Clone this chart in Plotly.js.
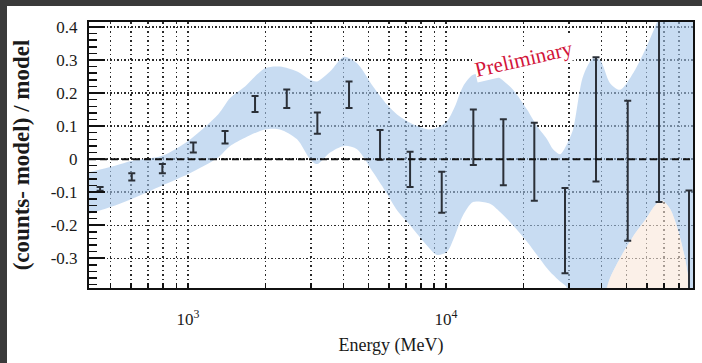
<!DOCTYPE html>
<html>
<head>
<meta charset="utf-8">
<script src="https://cdn.plot.ly/plotly-3.0.1.min.js"></script>
<style>
  html, body { margin: 0; padding: 0; width: 702px; height: 363px; overflow: hidden; background: #3a3a3a; }
  #chart { position: absolute; left: 7px; top: 6px; width: 695px; height: 357px; background: #ffffff; }
</style>
</head>
<body>
<div id="chart"></div>
<script>
// ---- data points (energy in MeV, (counts-model)/model, 1-sigma error) ----
const energy   = [456, 605, 795, 1048, 1391, 1818, 2413, 3171, 4207, 5549, 7254, 9623, 12760, 16680, 21990, 28920, 38140, 50620, 66930, 87470];
const ratio    = [-0.09, -0.054, -0.029, 0.035, 0.066, 0.167, 0.183, 0.109, 0.195, 0.043, -0.031, -0.1, 0.066, 0.021, -0.008, -0.216, 0.12, -0.035, 0.15, -0.35];
const ratioErr = [0.006, 0.011, 0.014, 0.015, 0.019, 0.024, 0.028, 0.032, 0.04, 0.045, 0.053, 0.062, 0.084, 0.1, 0.118, 0.129, 0.188, 0.212, 0.28, 0.255];

// ---- systematic band (blue) ----
const bandEnergy = [413, 521, 607, 793, 1000, 1307, 1455, 1663, 1988, 2273, 2646, 2972, 3162, 3551, 4025, 4519, 5213, 5906, 6458, 7254, 8517, 9229, 10090, 10837, 11640, 12729, 14812, 16195, 18186, 20606, 22528, 24635, 25986, 27671, 29184, 31070, 33963, 37136, 39540, 43230, 47260, 54035, 59070, 64580, 68750, 73830, 79290, 84410, 88230, 90650, 96500];
const bandUpper  = [-0.04, -0.02, -0.005, 0.01, 0.055, 0.135, 0.185, 0.22, 0.275, 0.28, 0.265, 0.24, 0.235, 0.265, 0.31, 0.29, 0.22, 0.165, 0.135, 0.11, 0.09, 0.095, 0.115, 0.16, 0.22, 0.255, 0.26, 0.245, 0.21, 0.15, 0.1, 0.06, 0.03, 0.015, 0.04, 0.09, 0.25, 0.305, 0.3, 0.23, 0.21, 0.27, 0.33, 0.4, 0.45, 0.5, 0.5, 0.5, 0.5, 0.5, 0.5];
const bandLower  = [-0.165, -0.14, -0.12, -0.08, -0.045, 0.005, 0.04, 0.065, 0.09, 0.09, 0.06, 0.0, -0.015, 0.02, 0.04, 0.03, -0.04, -0.105, -0.155, -0.2, -0.265, -0.29, -0.28, -0.23, -0.17, -0.13, -0.135, -0.16, -0.2, -0.25, -0.29, -0.33, -0.35, -0.37, -0.385, -0.45, -0.45, -0.45, -0.45, -0.36, -0.3, -0.225, -0.185, -0.14, -0.125, -0.15, -0.215, -0.3, -0.39, -0.45, -0.45];

// ---- second band (light peach) at high energy ----
const peachEnergy = [39540, 43230, 47260, 54035, 59070, 64580, 68750, 73830, 79290, 84410, 88230, 90650];
const peachTop    = [-0.45, -0.36, -0.3, -0.225, -0.185, -0.14, -0.125, -0.15, -0.215, -0.3, -0.39, -0.45];

// ---- axes ----
const xTickVals = [500, 600, 700, 800, 900, 1000, 2000, 3000, 4000, 5000, 6000, 7000, 8000, 9000, 10000, 20000, 30000, 40000, 50000, 60000, 70000, 80000, 90000];
const xTickText = ['', '', '', '', '', '10<sup>3</sup>', '', '', '', '', '', '', '', '', '10<sup>4</sup>', '', '', '', '', '', '', '', ''];
const yTickVals = [-0.3, -0.2, -0.1, 0, 0.1, 0.2, 0.3, 0.4];
const yTickText = ['-0.3', '-0.2', '-0.1', '0', '0.1', '0.2', '0.3', '0.4'];
const xRangeMeV = [413, 90650];
const yRange = [-0.39, 0.415];

const traces = [
  { x: bandEnergy, y: bandLower, type: 'scatter', mode: 'lines', line: { width: 0, shape: 'spline', smoothing: 0.8 }, hoverinfo: 'skip' },
  { x: bandEnergy, y: bandUpper, type: 'scatter', mode: 'lines', line: { width: 0, shape: 'spline', smoothing: 0.8 },
    fill: 'tonexty', fillcolor: 'rgba(163,197,233,0.6)', hoverinfo: 'skip' },
  { x: peachEnergy, y: peachTop, type: 'scatter', mode: 'lines', line: { width: 0, shape: 'spline', smoothing: 0.8 },
    fill: 'toself', fillcolor: 'rgba(248,230,216,0.6)', hoverinfo: 'skip' },
  { x: energy, y: ratio, type: 'scatter', mode: 'markers',
    marker: { size: 1, color: 'rgba(0,0,0,0)' },
    error_y: { type: 'data', array: ratioErr, visible: true, color: '#2b3038', thickness: 2, width: 3.5 } }
];

const font = "'Liberation Serif', 'Times New Roman', Times, serif";
const layout = {
  width: 695, height: 357,
  margin: { l: 82, r: 9, t: 16, b: 75 },
  paper_bgcolor: '#ffffff', plot_bgcolor: '#ffffff',
  showlegend: false, hovermode: false,
  font: { family: font, color: '#1a1a1a', size: 16 },
  xaxis: {
    type: 'log', range: [Math.log10(xRangeMeV[0]), Math.log10(xRangeMeV[1])],
    tickmode: 'array', tickvals: xTickVals, ticktext: xTickText,
    ticks: 'inside', ticklen: 5, tickwidth: 1.5, tickcolor: '#111',
    showline: true, linecolor: '#111', linewidth: 2, mirror: true,
    showgrid: true, gridcolor: '#2a2a2a', gridwidth: 1.4, griddash: '1.5px,3px',
    zeroline: false, ticklabelstandoff: 15,
    tickfont: { family: font, size: 17 },
    title: { text: 'Energy (MeV)', font: { family: font, size: 18 }, standoff: 10 }
  },
  yaxis: {
    range: yRange,
    tickmode: 'array', tickvals: yTickVals, ticktext: yTickText,
    ticks: 'inside', ticklen: 16, tickwidth: 2, tickcolor: '#111',
    minor: { tickmode: 'linear', tick0: 0, dtick: 0.02, ticks: 'inside', ticklen: 8, tickwidth: 1.5, tickcolor: '#111', showgrid: false },
    showline: true, linecolor: '#111', linewidth: 2, mirror: true,
    showgrid: true, gridcolor: '#2a2a2a', gridwidth: 1.4, griddash: '1.5px,2px',
    zeroline: false, ticklabelstandoff: 6,
    tickfont: { family: font, size: 17 },
    title: { text: '(counts- model) / model', font: { family: font, size: 23, weight: 'bold' }, standoff: 15 }
  },
  shapes: [
    { type: 'line', xref: 'paper', x0: 0, x1: 1, yref: 'y', y0: 0, y1: 0, layer: 'above',
      line: { color: '#111', width: 2, dash: '7px,4px' } }
  ],
  annotations: [
    { text: 'Preliminary', xref: 'x', yref: 'y', x: 4.302, y: 0.303, showarrow: false,
      textangle: -13, bgcolor: '#ffffff', borderpad: 0,
      font: { family: font, size: 21, color: '#d2143a' } }
  ]
};

Plotly.newPlot('chart', traces, layout, { staticPlot: true, displayModeBar: false });
</script>
</body>
</html>
